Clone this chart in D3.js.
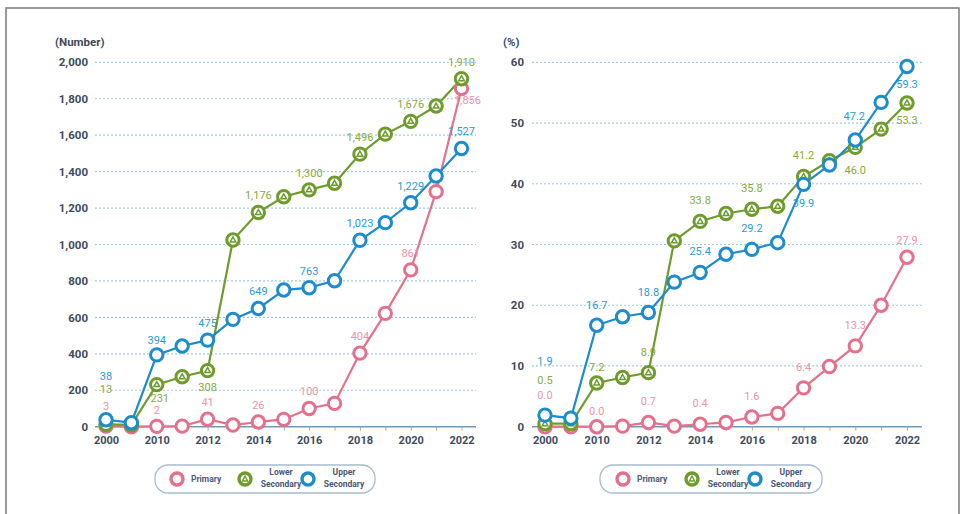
<!DOCTYPE html>
<html>
<head>
<meta charset="utf-8">
<script src="https://cdn.jsdelivr.net/npm/d3@7/dist/d3.min.js"></script>
<style>
  html, body { margin: 0; padding: 0; background: #fff; }
  svg { display: block; }
</style>
</head>
<body>
<svg id="chart" width="964" height="514"></svg>
<script>
// Survey years (second point is an unlabelled earlier year)
const categories = ["2000","2005","2010","2011","2012","2013","2014","2015","2016","2017","2018","2019","2020","2021","2022"];
const tickLabels = ["2000","","2010","","2012","","2014","","2016","","2018","","2020","","2022"];

// Counts (number of schools)
const primaryCount = [3, 0, 2, 3, 41, 9, 26, 40, 100, 128, 404, 622, 861, 1290, 1856];
const lowerCount   = [13, 10, 231, 274, 308, 1025, 1176, 1262, 1300, 1336, 1496, 1606, 1676, 1760, 1910];
const upperCount   = [38, 22, 394, 443, 475, 589, 649, 750, 763, 801, 1023, 1120, 1229, 1376, 1527];

// Shares (%)
const primaryPct = [0.0, 0.0, 0.0, 0.1, 0.7, 0.1, 0.4, 0.7, 1.6, 2.2, 6.4, 9.9, 13.3, 20.0, 27.9];
const lowerPct   = [0.5, 0.5, 7.2, 8.1, 8.9, 30.6, 33.8, 35.1, 35.8, 36.3, 41.2, 43.8, 46.0, 49.0, 53.3];
const upperPct   = [1.9, 1.4, 16.7, 18.1, 18.8, 23.8, 25.4, 28.4, 29.2, 30.3, 39.9, 43.1, 47.2, 53.4, 59.3];

const countTicks = [0, 200, 400, 600, 800, 1000, 1200, 1400, 1600, 1800, 2000];
const pctTicks = [0, 10, 20, 30, 40, 50, 60];

const seriesNames = ["Primary", "Lower Secondary", "Upper Secondary"];
const lineColors  = ["#e5708c", "#6e9c2c", "#1c8ccc"];
const labelColors = ["#ef93a8", "#86aa3e", "#2b9ad6"];

const svg = d3.select("#chart");
const fontFamily = "'Liberation Sans Narrow', 'Roboto', 'Liberation Sans', sans-serif";

// outer frame
svg.append("rect")
  .attr("x", 6).attr("y", 8).attr("width", 953).attr("height", 520)
  .attr("fill", "none").attr("stroke", "#7a7a7a").attr("stroke-width", 1.5);

function drawPanel(opt) {
  const g = svg.append("g");
  const x = d3.scalePoint().domain(categories).range(opt.xRange);
  const y = d3.scaleLinear().domain(opt.yDomain).range([426.7, 62.3]);

  // unit caption
  g.append("text").attr("x", opt.unitX).attr("y", 46)
    .attr("font-family", fontFamily).attr("font-size", 11.5).attr("font-weight", 700)
    .attr("fill", "#3e4b5e").text(opt.unit);

  // dotted gridlines
  g.selectAll(".grid").data(opt.ticks.filter(t => t !== 0)).join("line")
    .attr("x1", opt.gridX[0]).attr("x2", opt.gridX[1])
    .attr("y1", d => y(d)).attr("y2", d => y(d))
    .attr("stroke", "#9ccbe8").attr("stroke-width", 1.2).attr("stroke-dasharray", "2,2");

  // y axis labels
  const yAxis = d3.axisLeft(y).tickValues(opt.ticks).tickSize(0).tickPadding(0)
    .tickFormat(opt.fmt);
  const ya = g.append("g").attr("transform", `translate(${opt.yLabelX},0)`).call(yAxis);
  ya.select(".domain").remove();
  ya.selectAll("text").attr("font-family", fontFamily).attr("font-size", 11.5)
    .attr("font-weight", 700).attr("fill", "#3e4b5e");

  // baseline with category ticks
  const xAxis = d3.axisBottom(x).tickSize(4).tickPadding(6)
    .tickFormat((d, i) => tickLabels[i]);
  const xa = g.append("g").attr("transform", `translate(0,${y(0)})`).call(xAxis);
  xa.select(".domain").attr("d", `M${opt.gridX[0]},0H${opt.gridX[1]}`)
    .attr("stroke", "#6f9ab8").attr("stroke-width", 1.6);
  xa.selectAll(".tick line").attr("stroke", "#8fb0c8");
  xa.selectAll("text").attr("font-family", fontFamily).attr("font-size", 11)
    .attr("font-weight", 700).attr("fill", "#3e4b5e");

  const line = d3.line().x((d, i) => x(categories[i])).y(d => y(d));

  opt.series.forEach((vals, s) => {
    g.append("path").datum(vals)
      .attr("d", line).attr("fill", "none")
      .attr("stroke", lineColors[s]).attr("stroke-width", 2.2);
  });

  opt.series.forEach((vals, s) => {
    const pts = g.append("g").selectAll("g").data(vals).join("g")
      .attr("transform", (d, i) => `translate(${x(categories[i])},${y(d)})`);
    pts.append("circle").attr("r", 6.2).attr("fill", "#fff")
      .attr("stroke", lineColors[s]).attr("stroke-width", 3);
    if (s === 1) {
      pts.append("path").attr("d", "M0,-3L2.8,2L-2.8,2Z")
        .attr("fill", "none").attr("stroke", lineColors[s]).attr("stroke-width", 1.5);
    }
  });

  // value labels on the labelled years
  opt.series.forEach((vals, s) => {
    const place = opt.placement[s];
    g.append("g").selectAll("text").data(vals.map((v, i) => ({ v, i })).filter(d => d.i === 0 || (d.i >= 2 && d.i % 2 === 0)))
      .join("text")
      .attr("x", d => x(categories[d.i]) + (place[d.i] ? place[d.i][0] : 0))
      .attr("y", d => y(d.v) + (place[d.i] ? place[d.i][1] : opt.labelDy))
      .attr("text-anchor", "middle")
      .attr("font-family", fontFamily).attr("font-size", 11)
      .attr("fill", labelColors[s])
      .text(d => opt.fmtLabel(d.v));
  });

  // legend
  const lg = g.append("g");
  lg.append("rect").attr("x", opt.legend.x).attr("y", 465).attr("width", opt.legend.w).attr("height", 28)
    .attr("rx", 13).attr("fill", "#fff").attr("stroke", "#a8bccf").attr("stroke-width", 1.3);
  seriesNames.forEach((name, s) => {
    const mx = opt.legend.markers[s];
    lg.append("circle").attr("cx", mx).attr("cy", 479).attr("r", 6).attr("fill", "#fff")
      .attr("stroke", lineColors[s]).attr("stroke-width", 3.4);
    if (s === 1) {
      lg.append("path").attr("d", `M${mx},476L${mx + 2.6},481L${mx - 2.6},481Z`)
        .attr("fill", "none").attr("stroke", lineColors[s]).attr("stroke-width", 1.4);
    }
    const words = name.split(" ");
    const t = lg.append("text").attr("font-family", fontFamily)
      .attr("font-size", 8.5).attr("font-weight", 700).attr("fill", "#4a5a78");
    if (words.length === 1) {
      t.attr("x", mx + 14).attr("y", 482).text(name);
    } else {
      t.attr("text-anchor", "middle");
      t.append("tspan").attr("x", mx + 36).attr("y", 475).text(words[0]);
      t.append("tspan").attr("x", mx + 36).attr("y", 487).text(words[1]);
    }
  });
}

const fmtCount = d3.format(",");

drawPanel({
  unit: "(Number)", unitX: 55, yLabelX: 88,
  xRange: [106, 461.5], gridX: [95, 476],
  yDomain: [0, 2000], ticks: countTicks, fmt: fmtCount, fmtLabel: fmtCount,
  labelDy: -13,
  series: [primaryCount, lowerCount, upperCount],
  placement: [
    { 0: [0, -16], 2: [0, -12], 14: [6, 15] },
    { 0: [0, -31], 2: [3, 17], 4: [0, 20] },
    { 0: [0, -40], 2: [0, -11] }
  ],
  legend: { x: 155, w: 220, markers: [177, 245, 308] }
});

drawPanel({
  unit: "(%)", unitX: 503, yLabelX: 524,
  xRange: [545, 907], gridX: [532, 922],
  yDomain: [0, 60], ticks: pctTicks, fmt: d3.format("d"), fmtLabel: d3.format(".1f"),
  labelDy: -17,
  series: [primaryPct, lowerPct, upperPct],
  placement: [
    { 0: [0, -28], 2: [0, -12], 14: [0, -13] },
    { 0: [0, -40], 2: [0, -12], 12: [0, 27], 14: [0, 21] },
    { 0: [0, -50], 2: [0, -16], 10: [0, 23], 12: [-1, -20], 14: [0, 21] }
  ],
  legend: { x: 600, w: 222, markers: [623, 692, 755] }
});
</script>
</body>
</html>
